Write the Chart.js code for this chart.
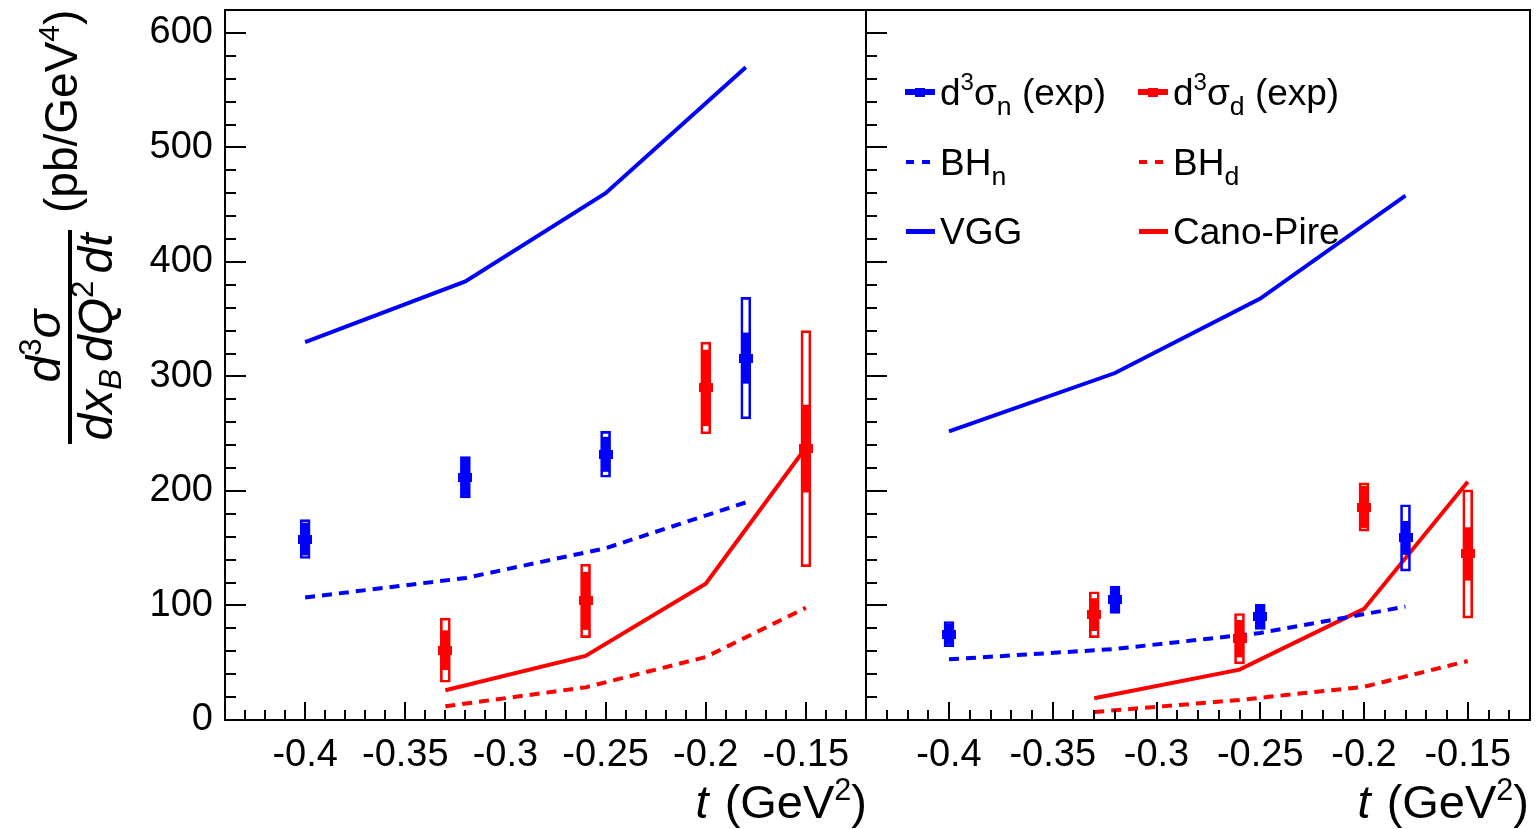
<!DOCTYPE html>
<html>
<head>
<meta charset="utf-8">
<script src="https://cdn.jsdelivr.net/npm/chart.js@4/dist/chart.umd.min.js"></script>
<style>
html,body{margin:0;padding:0;background:#fff;}
body{width:1537px;height:829px;position:relative;overflow:hidden;font-family:"Liberation Sans",Arial,Helvetica,sans-serif;color:#000;}
canvas{position:absolute;top:0;}
#c1{left:0;}
#c2{left:846px;}
sup,sub{font-size:0.65em;line-height:0;position:relative;vertical-align:baseline;}
sup{top:-0.6em;}
sub{top:0.35em;}
#ytitle{position:absolute;left:0;top:450px;width:450px;height:130px;transform-origin:0 0;transform:rotate(-90deg);font-size:46px;}
#ytitle div{position:absolute;line-height:46px;white-space:nowrap;}
#ytitle .num{left:0;width:208px;top:21px;text-align:center;font-size:48px;}
#ytitle .bar{left:6px;width:214px;top:68px;height:4px;background:#000;}
#ytitle .den{left:6px;width:214px;top:73px;text-align:center;font-size:48px;}
#ytitle .den sub,#ytitle .den sup{margin-right:7px;}
#ytitle .den sub{top:0.3em;}
#ytitle .unit{left:237px;top:38px;}
.xtitle{position:absolute;top:778px;font-size:47px;line-height:47px;white-space:nowrap;}
.xtitle i{margin-right:16px;}
.leg{position:absolute;height:40px;display:flex;align-items:center;font-size:37px;line-height:37px;white-space:nowrap;}
.leg sub{font-size:0.72em;top:0.4em;}
.icon{position:relative;width:30px;height:40px;margin-right:5px;flex:none;}
.icon span{position:absolute;display:block;}
</style>
</head>
<body>
<canvas id="c1" width="867" height="829"></canvas>
<canvas id="c2" width="691" height="829"></canvas>
<div id="ytitle">
  <div class="num"><i>d</i><sup>3</sup><i>σ</i></div>
  <div class="bar"></div>
  <div class="den"><i>dx</i><sub><i>B</i></sub><i>dQ</i><sup>2</sup><i>dt</i></div>
  <div class="unit">(pb/GeV<sup>4</sup>)</div>
</div>
<div class="xtitle" style="right:670px;"><i>t</i>(GeV<sup>2</sup>)</div>
<div class="xtitle" style="right:8px;"><i>t</i>(GeV<sup>2</sup>)</div>
<div id="legend"></div>
<script>
// ---------- data ----------
const tN = [-0.4, -0.32, -0.25, -0.18];   // neutron t bins
const tD = [-0.33, -0.26, -0.2, -0.15];   // deuteron t bins

// left panel
const expN_L  = [158, 212, 232, 316];
const statN_L = [14, 16, 15, 22];
const sysN_L  = [17, 18, 20, 53];
const expD_L  = [61, 104, 290, 237];
const statD_L = [17, 25, 33, 38];
const sysD_L  = [28, 32, 40, 103];
const bhN_L   = [107, 124, 150, 190];
const vgg_L   = [330, 383, 460, 570];
const bhD_L   = [12, 28.5, 55, 98];
const cano_L  = [26, 56, 119, 238];

// right panel
const expN_R  = [75, 105, 90, 159];
const statN_R = [9, 11, 10, 14.5];
const sysN_R  = [11, 12, 11, 29];
const expD_R  = [92, 71, 186, 145];
const statD_R = [14, 16, 18, 23];
const sysD_R  = [20, 22, 21, 56];
const bhN_R   = [53, 62, 76, 99];
const vgg_R   = [252, 303, 368, 458];
const bhD_R   = [7, 17.5, 29, 51.5];
const cano_R  = [19, 44, 97, 208];

const xTickValues = [-0.4, -0.35, -0.3, -0.25, -0.2, -0.15];
const yTickValues = [0, 100, 200, 300, 400, 500, 600];
const xMin = -0.44, xMax = -0.12, yMin = 0, yMax = 620;

// ---------- styling ----------
const BLUE = '#0000ff', RED = '#ff0000';
Chart.defaults.font.family = '"Liberation Sans", Arial, Helvetica, sans-serif';
Chart.defaults.font.size = 38;
Chart.defaults.color = '#000';

function markerCanvas(color) {
  const c = document.createElement('canvas');
  c.width = 14; c.height = 9;
  const g = c.getContext('2d');
  g.fillStyle = color; g.fillRect(0, 0, 14, 9);
  return c;
}
const markerBlue = markerCanvas(BLUE), markerRed = markerCanvas(RED);

const pts = (ts, vals) => ts.map((t, i) => ({x: t, y: vals[i]}));
const rng = (ts, vals, errs) => ts.map((t, i) => ({x: t, y: [vals[i] - errs[i], vals[i] + errs[i]]}));

function panelDatasets(p) {
  const line = (label, ts, vals, color, dash) => ({
    type: 'line', label, data: pts(ts, vals), borderColor: color, borderWidth: 4,
    borderDash: dash ? [10, 7] : [], pointRadius: 0, fill: false, tension: 0, order: 5
  });
  const stat = (label, ts, vals, errs, color) => ({
    type: 'bar', label, data: rng(ts, vals, errs), barThickness: 8, backgroundColor: color,
    borderWidth: 0, grouped: false, order: 3
  });
  const sys = (label, ts, vals, errs, color) => ({
    type: 'bar', label, data: rng(ts, vals, errs), barThickness: 10, backgroundColor: 'rgba(0,0,0,0)',
    borderColor: color, borderWidth: 2, borderSkipped: false, grouped: false, order: 2
  });
  const mark = (label, ts, vals, style) => ({
    type: 'line', label, data: pts(ts, vals), showLine: false, pointStyle: style,
    pointRadius: 5, order: 1
  });
  return [
    line('VGG', tN, p.vgg, BLUE, false),
    line('BH_n', tN, p.bhN, BLUE, true),
    line('Cano-Pire', tD, p.cano, RED, false),
    line('BH_d', tD, p.bhD, RED, true),
    stat('stat n', tN, p.expN, p.statN, BLUE),
    stat('stat d', tD, p.expD, p.statD, RED),
    sys('sys n', tN, p.expN, p.sysN, BLUE),
    sys('sys d', tD, p.expD, p.sysD, RED),
    mark('d3sigma_n (exp)', tN, p.expN, markerBlue),
    mark('d3sigma_d (exp)', tD, p.expD, markerRed)
  ];
}

const frameTicks = {
  id: 'frameTicks',
  afterDatasetsDraw(chart) {
    const {ctx, chartArea: a, scales: {x, y}} = chart;
    ctx.save();
    ctx.strokeStyle = '#000';
    ctx.lineWidth = 2;
    ctx.beginPath();
    for (let k = Math.round(x.min * 100); k <= Math.round(x.max * 100); k++) {
      const px = Math.round(x.getPixelForValue(k / 100));
      const len = (k % 5 === 0) ? 18 : 10;
      ctx.moveTo(px, a.bottom); ctx.lineTo(px, a.bottom - len);
    }
    for (let v = y.min; v <= y.max; v += 20) {
      const py = Math.round(y.getPixelForValue(v));
      const len = (v % 100 === 0) ? 21 : 11;
      ctx.moveTo(a.left, py); ctx.lineTo(a.left + len, py);
    }
    ctx.stroke();
    ctx.strokeRect(a.left, a.top, a.right - a.left, a.bottom - a.top);
    ctx.restore();
  }
};

function makeChart(id, p, showY, padding) {
  return new Chart(document.getElementById(id), {
    type: 'scatter',
    data: {datasets: panelDatasets(p)},
    options: {
      responsive: false, animation: false, events: [],
      layout: {padding, autoPadding: false},
      plugins: {legend: {display: false}, tooltip: {enabled: false}},
      scales: {
        x: {
          type: 'linear', min: xMin, max: xMax, offset: false,
          grid: {display: false, drawTicks: false}, border: {display: false},
          afterBuildTicks: s => { s.ticks = xTickValues.map(v => ({value: v})); },
          afterFit: s => { s.height = 109; s.paddingLeft = 0; s.paddingRight = 0; },
          ticks: {padding: 13, maxRotation: 0, autoSkip: false, callback: v => String(v)}
        },
        y: {
          type: 'linear', min: yMin, max: yMax, display: showY,
          grid: {display: false, drawTicks: false}, border: {display: false},
          afterBuildTicks: s => { s.ticks = yTickValues.map(v => ({value: v})); },
          afterFit: s => { s.width = showY ? 225 : 0; s.paddingTop = 0; s.paddingBottom = 0; },
          ticks: {padding: 12, autoSkip: false, callback: v => String(v)}
        }
      }
    },
    plugins: [frameTicks]
  });
}

makeChart('c1', {expN: expN_L, statN: statN_L, sysN: sysN_L, expD: expD_L, statD: statD_L, sysD: sysD_L,
  bhN: bhN_L, vgg: vgg_L, bhD: bhD_L, cano: cano_L}, true, {top: 10, right: 1, bottom: 0, left: 0});
makeChart('c2', {expN: expN_R, statN: statN_R, sysN: sysN_R, expD: expD_R, statD: statD_R, sysD: sysD_R,
  bhN: bhN_R, vgg: vgg_R, bhD: bhD_R, cano: cano_R}, false, {top: 10, right: 7, bottom: 0, left: 20});

// ---------- legend ----------
const legendEntries = [
  {html: 'd<sup>3</sup>σ<sub>n</sub> (exp)', color: BLUE, kind: 'exp'},
  {html: 'd<sup>3</sup>σ<sub>d</sub> (exp)', color: RED, kind: 'exp'},
  {html: 'BH<sub>n</sub>', color: BLUE, kind: 'dash'},
  {html: 'BH<sub>d</sub>', color: RED, kind: 'dash'},
  {html: 'VGG', color: BLUE, kind: 'solid'},
  {html: 'Cano-Pire', color: RED, kind: 'solid'}
];
const legCols = [905, 1138], legRows = [92, 162, 231];
const legEl = document.getElementById('legend');
legendEntries.forEach((e, i) => {
  const d = document.createElement('div');
  d.className = 'leg';
  d.style.left = legCols[i % 2] + 'px';
  d.style.top = (legRows[Math.floor(i / 2)] - 20) + 'px';
  let icon = '';
  if (e.kind === 'exp') {
    icon = `<span style="left:0;top:17px;width:30px;height:6px;background:${e.color}"></span>` +
           `<span style="left:10px;top:15.5px;width:10px;height:9px;background:${e.color}"></span>`;
  } else if (e.kind === 'dash') {
    icon = `<span style="left:1px;top:18px;width:8px;height:4px;background:${e.color}"></span>` +
           `<span style="left:17px;top:18px;width:8px;height:4px;background:${e.color}"></span>`;
  } else {
    icon = `<span style="left:1px;top:17.5px;width:29px;height:5px;background:${e.color}"></span>`;
  }
  d.innerHTML = `<div class="icon">${icon}</div><span>${e.html}</span>`;
  legEl.appendChild(d);
});
</script>
</body>
</html>
